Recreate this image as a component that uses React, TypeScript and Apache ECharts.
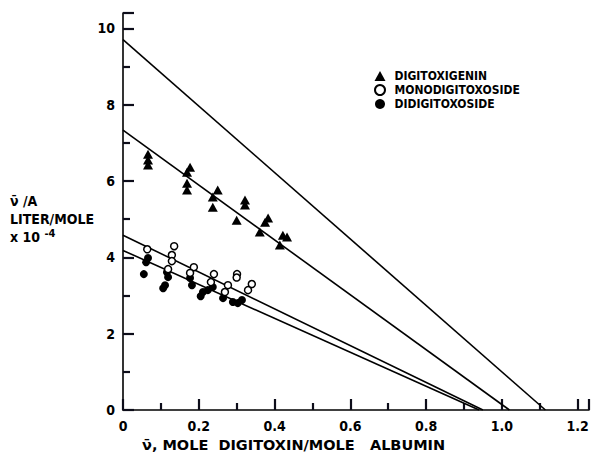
import React, { useEffect, useRef } from "react";
import * as echarts from "echarts";

const xLabelValues = [0, 0.2, 0.4, 0.6, 0.8, 1.0, 1.2];
const yLabelValues = [0, 2, 4, 6, 8, 10];

const digitoxigenin: number[][] = [
  [0.066, 6.7], [0.066, 6.55], [0.066, 6.42],
  [0.177, 6.36], [0.169, 6.23], [0.169, 5.94], [0.169, 5.76],
  [0.25, 5.76], [0.237, 5.58], [0.237, 5.31],
  [0.322, 5.5], [0.322, 5.37], [0.3, 4.97],
  [0.383, 5.03], [0.375, 4.92], [0.361, 4.66],
  [0.422, 4.58], [0.433, 4.53], [0.414, 4.32],
];

const monodigitoxoside: number[][] = [
  [0.064, 4.21], [0.135, 4.29], [0.129, 4.06], [0.129, 3.9], [0.119, 3.69],
  [0.187, 3.74], [0.177, 3.59], [0.24, 3.56], [0.232, 3.35],
  [0.301, 3.56], [0.3, 3.47], [0.277, 3.27], [0.269, 3.09],
  [0.34, 3.3], [0.33, 3.14],
];

const didigitoxoside: number[][] = [
  [0.066, 3.98], [0.061, 3.87], [0.055, 3.56],
  [0.116, 3.61], [0.119, 3.48], [0.111, 3.27], [0.106, 3.19],
  [0.177, 3.46], [0.182, 3.27], [0.211, 3.09], [0.205, 2.98], [0.224, 3.14],
  [0.237, 3.22], [0.264, 2.93], [0.29, 2.83], [0.314, 2.88], [0.303, 2.8],
];

const lineTotal: number[][] = [[0, 9.7], [1.115, 0]];
const lineDigitoxigenin: number[][] = [[0, 7.33], [1.02, 0]];
const lineMono: number[][] = [[0, 4.58], [0.95, 0]];
const lineDi: number[][] = [[0, 4.18], [0.94, 0]];

const FONT = "'DejaVu Sans Condensed', 'DejaVu Sans', sans-serif";
const FONT_WIDE = "'DejaVu Sans', sans-serif";

export default function App() {
  const ref = useRef<HTMLDivElement>(null);
  useEffect(() => {
    if (!ref.current) return;
    const chart = echarts.init(ref.current, null, { renderer: "svg" });
    const ls = () => ({ color: "#000", width: 1.6, opacity: 1 });
    const tls = () => ({ color: "#0d0d1a", width: 2.2 });
    const isIn = (v: number, arr: number[]) => arr.some((t) => Math.abs(t - v) < 1e-6);
    const lineSeries = (name: string, data: number[][]) => ({
      name,
      type: "line",
      data,
      symbol: "none",
      silent: true,
      lineStyle: { color: "#000", width: 1.6 },
      z: 1,
    });
    chart.setOption({
      animation: false,
      backgroundColor: "#fff",
      grid: { left: 123, right: 6, top: 13, bottom: 50 },
      xAxis: {
        type: "value", min: 0, max: 1.23, interval: 0.2, position: "bottom",
        axisLine: { show: true, onZero: false, lineStyle: ls() },
        axisTick: { show: true, inside: true, length: 11, lineStyle: tls() },
        minorTick: { show: true, splitNumber: 2, length: 7, lineStyle: tls() },
        axisLabel: {
          show: true, color: "#000", fontFamily: FONT, fontWeight: "bold", fontSize: 14, margin: 9,
          formatter: (v: number) => (isIn(v, xLabelValues) ? (v === 0 ? "0" : v.toFixed(1)) : ""),
        },
        splitLine: { show: false },
      },
      yAxis: {
        type: "value", min: 0, max: 10.4, interval: 2, position: "left",
        axisLine: { show: true, onZero: false, lineStyle: ls() },
        axisTick: { show: true, inside: true, length: 11, lineStyle: tls() },
        minorTick: { show: true, splitNumber: 2, length: 7, lineStyle: tls() },
        axisLabel: {
          show: true, color: "#000", fontFamily: FONT, fontWeight: "bold", fontSize: 14, margin: 8,
          formatter: (v: number) => (isIn(v, yLabelValues) ? String(Math.round(v)) : ""),
        },
        splitLine: { show: false },
      },
      legend: {
        orient: "vertical",
        left: 369,
        top: 64,
        itemGap: 0,
        itemWidth: 11,
        itemHeight: 10,
        data: [
          { name: "DIGITOXIGENIN", icon: "triangle" },
          { name: "MONODIGITOXOSIDE", icon: "circle" },
          { name: "DIDIGITOXOSIDE", icon: "circle" },
        ],
        textStyle: { color: "#000", fontFamily: FONT, fontWeight: "bold", fontSize: 12, lineHeight: 14, padding: [0, 0, 0, 4] },
      },
      series: [
        lineSeries("total", lineTotal),
        lineSeries("fitA", lineDigitoxigenin),
        lineSeries("fitB", lineMono),
        lineSeries("fitC", lineDi),
        {
          name: "DIGITOXIGENIN", type: "scatter", data: digitoxigenin,
          symbol: "triangle", symbolSize: [10, 9],
          itemStyle: { color: "#000", opacity: 1 }, z: 3,
        },
        {
          name: "MONODIGITOXOSIDE", type: "scatter", data: monodigitoxoside,
          symbol: "circle", symbolSize: 7,
          itemStyle: { color: "#fff", borderColor: "#000", borderWidth: 1.5, opacity: 1 }, z: 4,
        },
        {
          name: "DIDIGITOXOSIDE", type: "scatter", data: didigitoxoside,
          symbol: "circle", symbolSize: 8,
          itemStyle: { color: "#000", opacity: 1 }, z: 3,
        },
      ],
      graphic: [
        {
          type: "text", left: 142, top: 437,
          style: {
            text: "\u03bd\u0304, MOLE  DIGITOXIN/MOLE   ALBUMIN",
            fill: "#000", font: `bold 14.5px ${FONT_WIDE}`,
          },
        },
        {
          type: "text", left: 10, top: 194,
          style: {
            text: "{a|\u03bd\u0304 /A}\n{a|LITER/MOLE}\n{a|x 10 }{s|-4}",
            rich: {
              a: { fill: "#000", fontFamily: FONT, fontWeight: "bold", fontSize: 14, lineHeight: 18 },
              s: { fill: "#000", fontFamily: FONT, fontWeight: "bold", fontSize: 11, verticalAlign: "top", lineHeight: 18, padding: [0, 0, 6, 0] },
            },
          },
        },
      ],
    });
    return () => chart.dispose();
  }, []);
  return <div ref={ref} style={{ position: "fixed", left: 0, top: 0, width: 595, height: 460 }} />;
}
